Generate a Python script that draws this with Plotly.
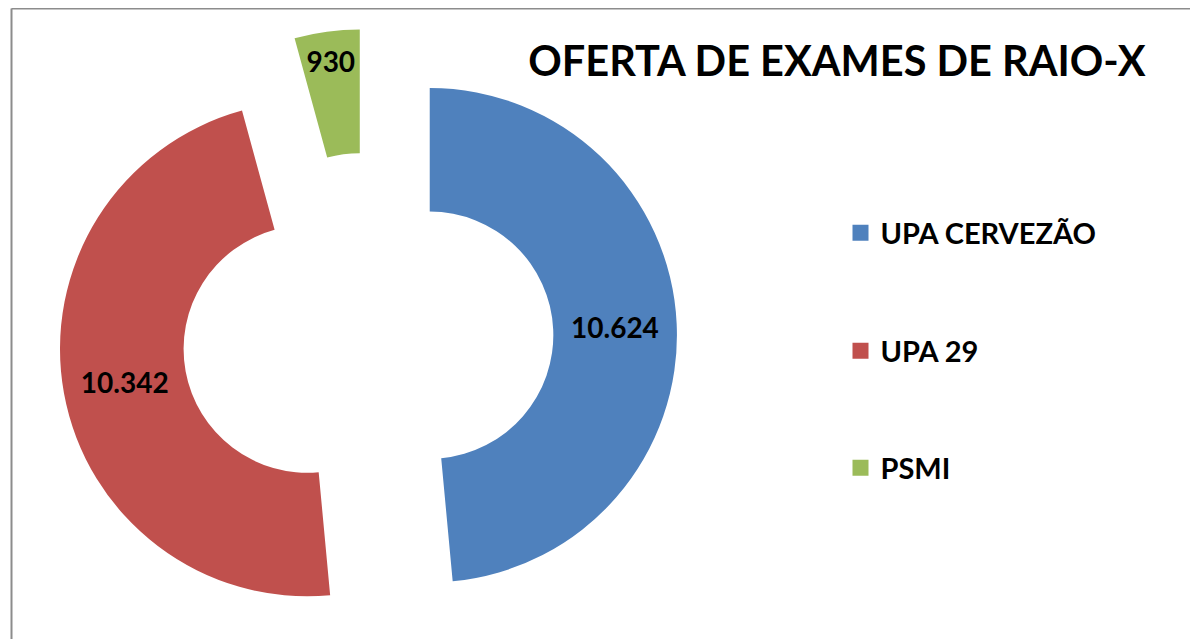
import plotly.graph_objects as go

# Data
categories = ["UPA CERVEZÃO", "UPA 29", "PSMI"]
values = [10624, 10342, 930]
colors = ["#4F81BD", "#C0504D", "#9BBB59"]
pulls = [0.25, 0.25, 0.25]
title_text = "OFERTA DE EXAMES DE RAIO-X"

W, H = 1198, 639
MT, MB = 21, 0
plot_h = H - MT - MB

fig = go.Figure()

fig.add_trace(go.Pie(
    labels=categories,
    values=values,
    marker=dict(colors=colors, line=dict(width=0)),
    hole=0.5,
    pull=pulls,
    sort=False,
    direction="clockwise",
    rotation=0,
    textinfo="value",
    texttemplate="%{value:,}",
    textposition="inside",
    insidetextorientation="horizontal",
    textfont=dict(family="Lato", size=28, color="black", weight="bold"),
    domain=dict(x=[0.04, 0.561], y=[0, 1]),
    showlegend=False,
    hoverinfo="label+value",
))

# Legend entries, one legend per category
legend_names = ["legend", "legend2", "legend3"]
legend_py = [225, 343, 460]
for name, col, lg in zip(categories, colors, legend_names):
    fig.add_trace(go.Scatter(
        x=[None], y=[None], mode="markers",
        marker=dict(symbol="square", size=16, color=col),
        name=name, legend=lg, showlegend=True,
    ))

legend_common = dict(
    font=dict(family="Lato", size=29, color="black", weight="bold"),
    bgcolor="rgba(0,0,0,0)",
    borderwidth=0,
    xanchor="left",
    yanchor="middle",
    x=832.5 / W,
)
layout_legends = {}
for lg, py in zip(legend_names, legend_py):
    d = dict(legend_common)
    d["y"] = (H - MB - py) / plot_h
    layout_legends[lg] = d

fig.update_layout(
    width=W, height=H,
    margin=dict(l=0, r=0, t=MT, b=MB),
    paper_bgcolor="white",
    plot_bgcolor="white",
    separators=",.",
    uniformtext=dict(minsize=28, mode="show"),
    title=dict(
        text=title_text,
        font=dict(family="Lato", size=41.5, color="black", weight="bold"),
        x=829 / W, xanchor="center", xref="container",
        y=1 - 53 / H, yanchor="middle", yref="container",
    ),
    xaxis=dict(visible=False),
    yaxis=dict(visible=False),
    **layout_legends,
)

# Chart-area frame (left and top edges visible)
fx = 3.5 / W
fy = (H - MB - 0.5) / plot_h
fig.add_shape(type="line", xref="paper", yref="paper", x0=fx, x1=fx, y0=-0.1, y1=fy,
              line=dict(color="#8C8C8C", width=2))
fig.add_shape(type="line", xref="paper", yref="paper", x0=fx, x1=1.1, y0=fy, y1=fy,
              line=dict(color="#8C8C8C", width=2))

fig.write_html("out.html")
